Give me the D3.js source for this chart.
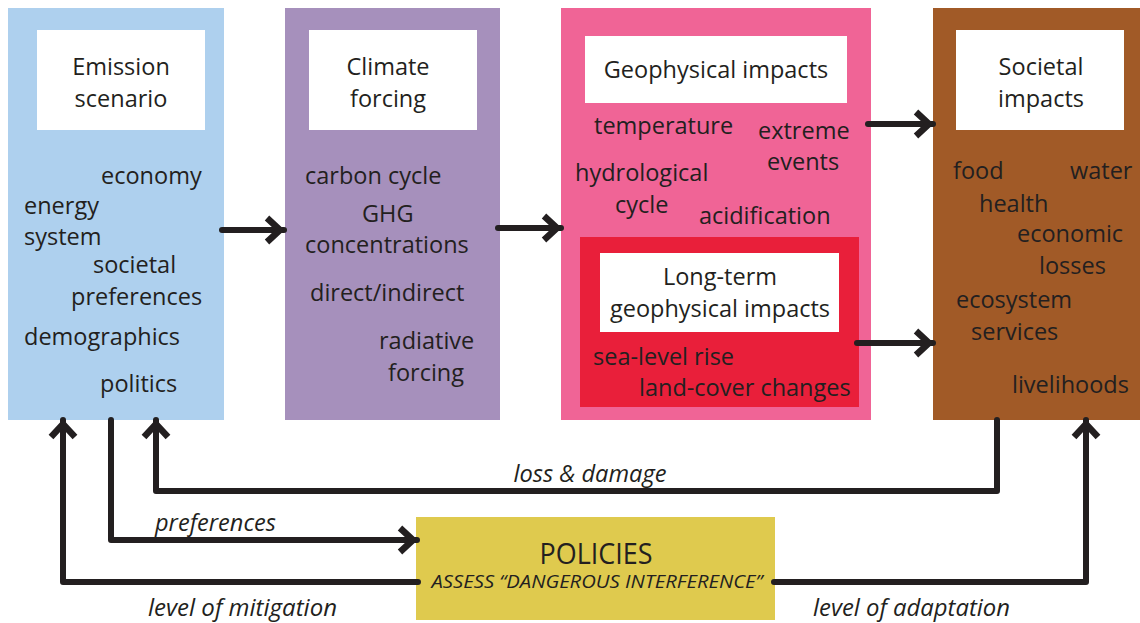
<!DOCTYPE html>
<html><head><meta charset="utf-8">
<script src="https://cdn.jsdelivr.net/npm/d3@7"></script>
<style>
html,body{margin:0;padding:0;background:#fff;}
svg{display:block;}
text{font-family:"Open Sans",sans-serif;fill:#231f20;}
</style></head>
<body>
<script>
// ---- content (data) ----
const stageTitles = [["Emission","scenario"],["Climate","forcing"],["Geophysical impacts"],["Societal","impacts"]];
const longTermTitle = ["Long-term","geophysical impacts"];
const emissionItems = ["economy","energy","system","societal","preferences","demographics","politics"];
const forcingItems = ["carbon cycle","GHG","concentrations","direct/indirect","radiative","forcing"];
const geoItems = ["temperature","extreme","events","hydrological","cycle","acidification"];
const longTermItems = ["sea-level rise","land-cover changes"];
const societalItems = ["food","water","health","economic","losses","ecosystem","services","livelihoods"];
const policyTitle = "POLICIES";
const policySubtitle = "ASSESS \u201cDANGEROUS INTERFERENCE\u201d";
const flowLabels = ["loss & damage","preferences","level of mitigation","level of adaptation"];

// ---- layout (positions/styles) ----
const W = 1140, H = 623;
const svg = d3.select("body").append("svg").attr("width", W).attr("height", H);
const ink = "#231f20";

const columns = [
  {x:8,   w:216, fill:"#aed0ee", title:{x:37, y:30, w:168, h:100}},
  {x:285, w:215, fill:"#a690bc", title:{x:309, y:30, w:168, h:100}},
  {x:561, w:310, fill:"#f06496", title:{x:585, y:36, w:262, h:67}},
  {x:933, w:207, fill:"#a15a27", title:{x:956, y:30, w:168, h:100}}
];
const colTop = 8, colBottom = 420;

const g = svg.append("g");
g.selectAll("rect.col").data(columns).join("rect").attr("class","col")
  .attr("x", d=>d.x).attr("y", colTop).attr("width", d=>d.w).attr("height", colBottom-colTop)
  .attr("fill", d=>d.fill);

// inner red box
g.append("rect").attr("x",580).attr("y",237).attr("width",279).attr("height",170).attr("fill","#e91f3a");

// white title boxes
g.selectAll("rect.title").data(columns).join("rect").attr("class","title")
  .attr("x", d=>d.title.x).attr("y", d=>d.title.y).attr("width", d=>d.title.w).attr("height", d=>d.title.h)
  .attr("fill","#fff");
g.append("rect").attr("x",600).attr("y",253).attr("width",239).attr("height",79).attr("fill","#fff");

const fs = 23.5;
const dy = -1;
function titleText(lines, cx, ys){
  lines.forEach((t,i)=>{
    g.append("text").attr("x",cx).attr("y",ys[i]+dy).attr("text-anchor","middle")
      .attr("dominant-baseline","central").attr("font-size",fs).text(t);
  });
}
titleText(stageTitles[0], 121, [67, 99]);
titleText(stageTitles[1], 388, [67, 99]);
titleText(stageTitles[2], 716, [70]);
titleText(stageTitles[3], 1041, [67, 99]);
titleText(longTermTitle, 720, [277, 309]);

function items(list, pos){
  list.forEach((t,i)=>{
    g.append("text").attr("x",pos[i][0]).attr("y",pos[i][1]+dy)
      .attr("dominant-baseline","central").attr("font-size",fs).text(t);
  });
}
items(emissionItems, [[101,176],[24,206],[24,237],[93,265],[71,297],[24,337],[100,384]]);
items(forcingItems, [[305,176],[362,214],[305,245],[310,293],[379,341],[388,373]]);
items(geoItems, [[594,126],[758,131],[767,162],[575,173],[615,205],[699,216]]);
items(longTermItems, [[593,357],[639,388]]);
items(societalItems, [[953,171],[1070,171],[979,204],[1017,234],[1039,266],[956,300],[971,332],[1012,385]]);

// policies box
g.append("rect").attr("x",416).attr("y",517).attr("width",359).attr("height",103).attr("fill","#dfca4e");
g.append("text").attr("x",596).attr("y",552).attr("text-anchor","middle").attr("dominant-baseline","central")
  .attr("font-size",29).attr("textLength",113).attr("lengthAdjust","spacingAndGlyphs").text(policyTitle);
g.append("text").attr("x",597).attr("y",581).attr("text-anchor","middle").attr("dominant-baseline","central")
  .attr("font-size",19).attr("font-style","italic").attr("textLength",331).attr("lengthAdjust","spacingAndGlyphs").text(policySubtitle);

// arrows
const line = d3.line();
function arrow(pts, head=true){
  const a = svg.append("g");
  a.append("path").attr("d", line(pts)).attr("fill","none").attr("stroke",ink)
    .attr("stroke-width",6).attr("stroke-linecap","round").attr("stroke-linejoin","round");
  if(head){
    const [x1,y1] = pts[pts.length-2], [x2,y2] = pts[pts.length-1];
    const L = Math.hypot(x2-x1,y2-y1), ux=(x2-x1)/L, uy=(y2-y1)/L, px=-uy, py=ux;
    const tip = [x2-ux*4, y2-uy*4];
    const back = 13, half = 12;
    const w1 = [tip[0]-ux*back+px*half, tip[1]-uy*back+py*half];
    const w2 = [tip[0]-ux*back-px*half, tip[1]-uy*back-py*half];
    a.append("path").attr("d", line([w1,tip,w2])).attr("fill","none").attr("stroke",ink)
      .attr("stroke-width",6.5).attr("stroke-linejoin","miter").attr("stroke-miterlimit",10);
  }
}
arrow([[222,230],[284,230]]);
arrow([[498,228],[561,228]]);
arrow([[868,124],[933,124]]);
arrow([[857,343],[933,343]]);
// feedback loops
arrow([[997,420],[997,491],[156,491],[156,420]]);
arrow([[111,420],[111,540],[417,540]]);
arrow([[418,582],[63,582],[63,420]]);
arrow([[774,582],[1086,582],[1086,420]]);

// flow labels
const labelPos = [[590,472,153,"middle"],[155,521,121,"start"],[148,606,189,"start"],[813,606,197,"start"]];
flowLabels.forEach((t,i)=>{
  const p = labelPos[i];
  svg.append("text").attr("x",p[0]).attr("y",p[1]).attr("text-anchor",p[3]).attr("dominant-baseline","central")
    .attr("font-size",24).attr("font-style","italic").attr("textLength",p[2]).attr("lengthAdjust","spacingAndGlyphs").text(t);
});
</script>
</body></html>
